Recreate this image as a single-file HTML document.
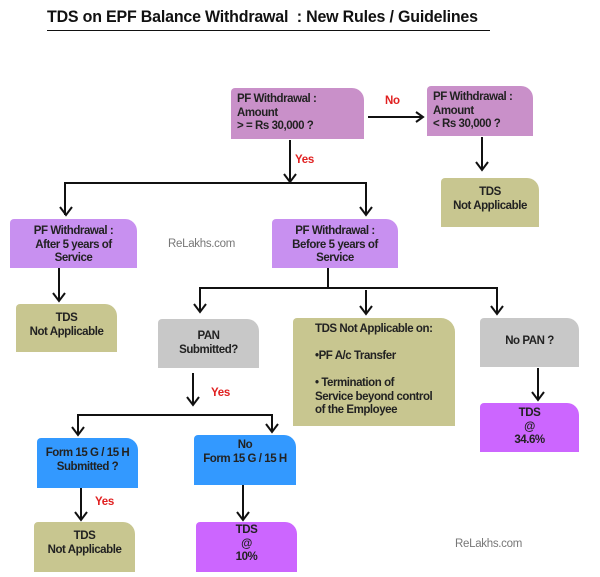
<!DOCTYPE html>
<html><head><style>
body{margin:0;width:600px;height:577px;background:#fff;position:relative;overflow:hidden;font-family:"Liberation Sans",sans-serif;}
.b{position:absolute;box-sizing:border-box;font-size:11.5px;font-weight:bold;letter-spacing:-0.45px;line-height:13.5px;color:#222;text-align:center;border-radius:4px 12px 0 0;white-space:nowrap;}
.l{text-align:left;padding-left:6px;}
.pk{background:#c990c9}.lv{background:#c890f0}.ol{background:#c8c690}.gr{background:#c8c8c8}.bl{background:#3399ff}.mg{background:#cc66ff}
.t{position:absolute;font-size:11.5px;font-weight:bold;letter-spacing:-0.3px;}
.red{color:#e02020}
.wm{color:#777;font-weight:normal;}
</style></head><body>
<div style="position:absolute;left:47px;top:8px;width:443px;border-bottom:1.5px solid #111;height:22px;"></div>
<div style="position:absolute;left:47px;top:7px;font-weight:bold;font-size:17px;letter-spacing:-0.2px;color:#111;white-space:nowrap;transform:scaleX(0.94);transform-origin:0 0;">TDS on EPF Balance Withdrawal &nbsp;: New Rules / Guidelines</div>
<svg width="600" height="577" style="position:absolute;left:0;top:0" fill="none" stroke="#111" stroke-width="2">
<path d="M368 117H423M416 112L423 117L416 122"/>
<path d="M290 140V182M284 174L290 182L296 174"/>
<path d="M65 215V183H366V215M60 207L66 215L72 207M360 207L366 215L372 207"/>
<path d="M482 137V170M476 162L482 170L488 162"/>
<path d="M59 268V301M53 293L59 301L65 293"/>
<path d="M328 268V288M200 312V288H497V314M194 304L200 312L206 304M366 290V314M360 306L366 314L372 306M491 306L497 314L503 306"/>
<path d="M538 368V400M532 392L538 400L544 392"/>
<path d="M193 373V405M187 397L193 405L199 397"/>
<path d="M78 435V415H272V432M72 427L78 435L84 427M266 424L272 432L278 424"/>
<path d="M81 488V520M75 512L81 520L87 512"/>
<path d="M243 485V520M237 512L243 520L249 512"/>
</svg>
<div class="b pk l" style="left:231px;top:88px;width:133px;height:51px;padding-top:5px">PF Withdrawal :<br>Amount<br>&gt; = Rs 30,000 ?</div>
<div class="t red" style="left:385px;top:95px">No</div>
<div class="b pk l" style="left:427px;top:86px;width:106px;height:50px;padding-top:5px">PF Withdrawal :<br>Amount<br>&lt; Rs 30,000 ?</div>
<div class="t red" style="left:295px;top:154px">Yes</div>
<div class="b ol" style="left:441px;top:178px;width:98px;height:49px;padding-top:8px">TDS<br>Not Applicable</div>
<div class="b lv" style="left:10px;top:219px;width:127px;height:49px;padding-top:6px">PF Withdrawal :<br>After 5 years of<br>Service</div>
<div class="t wm" style="left:168px;top:238px">ReLakhs.com</div>
<div class="b lv" style="left:272px;top:219px;width:126px;height:49px;padding-top:6px">PF Withdrawal :<br>Before 5 years of<br>Service</div>
<div class="b ol" style="left:16px;top:304px;width:101px;height:48px;padding-top:8px">TDS<br>Not Applicable</div>
<div class="b gr" style="left:158px;top:319px;width:101px;height:49px;padding-top:11px">PAN<br>Submitted?</div>
<div class="b ol l" style="left:293px;top:318px;width:162px;height:108px;padding-top:5px;padding-left:22px;border-radius:4px 14px 0 0">TDS Not Applicable on:<br><br>•PF A/c Transfer<br><br>• Termination of<br>Service beyond control<br>of the Employee</div>
<div class="b gr" style="left:480px;top:318px;width:99px;height:49px;padding-top:17px">No PAN ?</div>
<div class="b mg" style="left:480px;top:403px;width:99px;height:49px;padding-top:4px">TDS<br>@<br>34.6%</div>
<div class="t red" style="left:211px;top:387px">Yes</div>
<div class="b bl" style="left:37px;top:438px;width:101px;height:50px;padding-top:9px">Form 15 G / 15 H<br>Submitted ?</div>
<div class="b bl" style="left:194px;top:435px;width:102px;height:50px;padding-top:4px">No<br>Form 15 G / 15 H</div>
<div class="t red" style="left:95px;top:496px">Yes</div>
<div class="b ol" style="left:34px;top:522px;width:101px;height:50px;padding-top:8px">TDS<br>Not Applicable</div>
<div class="b mg" style="left:196px;top:522px;width:101px;height:50px;padding-top:2px">TDS<br>@<br>10%</div>
<div class="t wm" style="left:455px;top:538px">ReLakhs.com</div>
</body></html>
